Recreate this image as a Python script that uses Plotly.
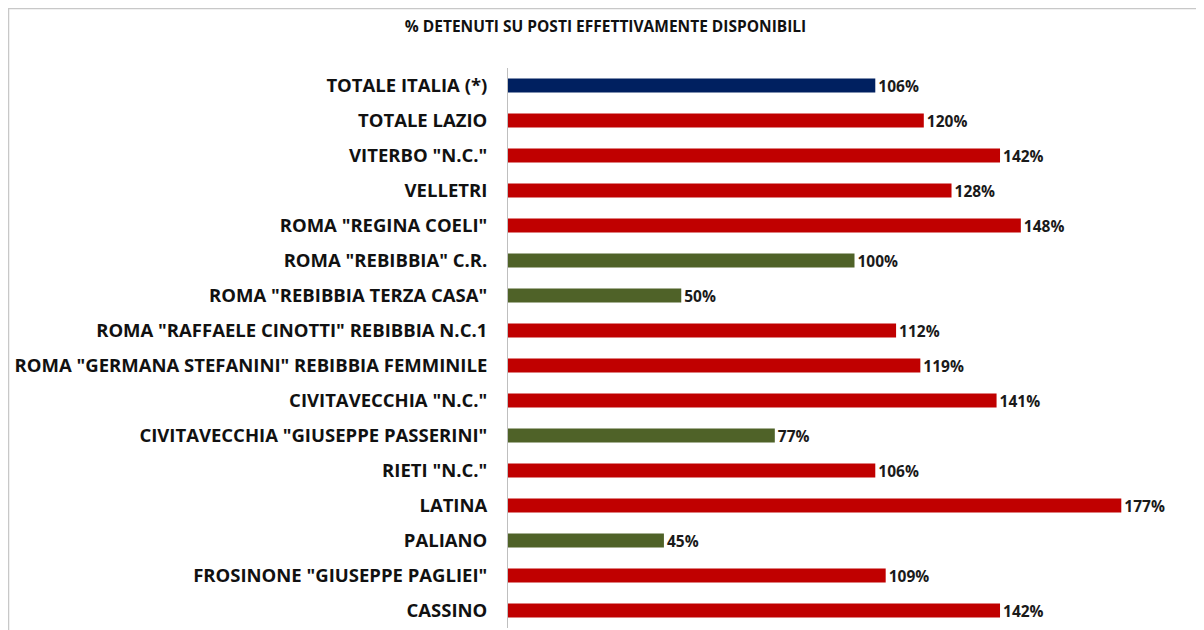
import plotly.graph_objects as go

categories = [
    'TOTALE ITALIA (*)',
    'TOTALE LAZIO',
    'VITERBO "N.C."',
    'VELLETRI',
    'ROMA "REGINA COELI"',
    'ROMA "REBIBBIA" C.R.',
    'ROMA "REBIBBIA TERZA CASA"',
    'ROMA "RAFFAELE CINOTTI" REBIBBIA N.C.1',
    'ROMA "GERMANA STEFANINI" REBIBBIA FEMMINILE',
    'CIVITAVECCHIA "N.C."',
    'CIVITAVECCHIA "GIUSEPPE PASSERINI"',
    'RIETI "N.C."',
    'LATINA',
    'PALIANO',
    'FROSINONE "GIUSEPPE PAGLIEI"',
    'CASSINO',
]
values = [106, 120, 142, 128, 148, 100, 50, 112, 119, 141, 77, 106, 177, 45, 109, 142]
value_labels = [f"{v}%" for v in values]

NAVY = "#002060"
RED = "#C00000"
GREEN = "#4F6228"
colors = []
for i, v in enumerate(values):
    if i == 0:
        colors.append(NAVY)
    elif v > 100:
        colors.append(RED)
    else:
        colors.append(GREEN)

FONT = "'Open Sans', Lato, sans-serif"

W, H = 1196, 622
L, R, T, B = 500, 3, 60, 2
PW, PH = W - L - R, H - T - B

fig = go.Figure(go.Bar(
    x=values,
    y=categories,
    orientation="h",
    marker=dict(color=colors, line=dict(width=0)),
    width=0.4,
    text=value_labels,
    textposition="outside",
    constraintext="none",
    textfont=dict(family=FONT, size=15.5, color="#1a1a1a", weight="bold"),
    cliponaxis=False,
    hoverinfo="skip",
))

fig.update_layout(
    width=W, height=H,
    margin=dict(l=L, r=R, t=T, b=B),
    paper_bgcolor="white",
    plot_bgcolor="white",
    showlegend=False,
    title=dict(
        text="<b>% DETENUTI SU POSTI EFFETTIVAMENTE DISPONIBILI</b>",
        x=597.5 / W, xanchor="center", xref="container",
        y=1 - 19 / H, yanchor="middle", yref="container",
        font=dict(family=FONT, size=15.5, color="#111111"),
    ),
    xaxis=dict(range=[0, 200], showgrid=False, showticklabels=False,
               zeroline=False, showline=False, ticks=""),
    yaxis=dict(autorange="reversed", showgrid=False,
               showline=True, linecolor="#BFBFBF", linewidth=1,
               ticks="", ticklabelstandoff=16,
               tickfont=dict(family=FONT, size=18.5, color="#111111", weight="bold")),
    shapes=[dict(type="rect", xref="paper", yref="paper",
                 x0=(0.5 - L) / PW, x1=1.02,
                 y0=-0.02, y1=(PH + T - 0.5) / PH,
                 line=dict(color="#C8C8C8", width=1.5), fillcolor="rgba(0,0,0,0)",
                 layer="below")],
)

fig.write_html("out.html")
